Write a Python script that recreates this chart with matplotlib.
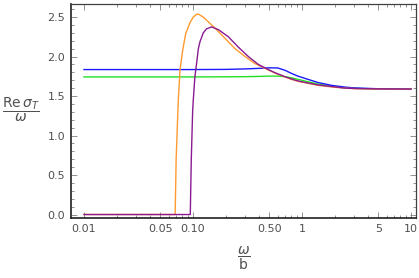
import matplotlib
matplotlib.use("Agg")
import matplotlib.pyplot as plt
from matplotlib.ticker import FixedLocator, FixedFormatter

# values (x = omega/b, y = Re sigma_T / omega)
orange_x = [0.01, 0.0686, 0.0700, 0.0733, 0.0760, 0.0804, 0.0857, 0.0939,
            0.1006, 0.108, 0.1125, 0.124, 0.138, 0.159, 0.1966, 0.2428,
            0.300, 0.3705, 0.458, 0.565, 0.698, 0.804, 0.925, 1.14, 1.41,
            1.87, 2.48, 3.06, 5.0, 10.0]
orange_y = [0.0, 0.0, 0.69, 1.45, 1.83, 2.08, 2.29, 2.43,
            2.50, 2.535, 2.535, 2.50, 2.44, 2.36, 2.23, 2.10,
            2.00, 1.91, 1.85, 1.79, 1.74, 1.71, 1.685, 1.66, 1.635,
            1.615, 1.60, 1.593, 1.588, 1.587]

purple_x = [0.01, 0.0944, 0.0964, 0.0993, 0.1006, 0.104, 0.108, 0.112,
            0.116, 0.1243, 0.133, 0.148, 0.171, 0.211, 0.260, 0.3215,
            0.397, 0.491, 0.565, 0.698, 0.804, 0.925, 1.14, 1.41, 1.87,
            2.48, 3.06, 5.0, 10.0]
purple_y = [0.0, 0.0, 0.69, 1.32, 1.45, 1.74, 1.92, 2.10,
            2.19, 2.30, 2.35, 2.375, 2.34, 2.25, 2.12, 2.00,
            1.90, 1.835, 1.795, 1.745, 1.715, 1.69, 1.665, 1.64, 1.62,
            1.60, 1.595, 1.59, 1.588]

blue_x = [0.01, 0.1, 0.2, 0.3, 0.4, 0.5, 0.6, 0.7, 0.804, 0.925, 1.14,
          1.41, 1.87, 2.48, 3.06, 5.0, 10.0]
blue_y = [1.835, 1.835, 1.837, 1.843, 1.85, 1.857, 1.855, 1.825, 1.785,
          1.75, 1.71, 1.67, 1.635, 1.613, 1.602, 1.592, 1.588]

green_x = [0.01, 0.1, 0.2, 0.3, 0.4, 0.5, 0.6, 0.7, 0.804, 0.925, 1.14,
           1.41, 1.87, 2.48, 3.06, 5.0, 10.0]
green_y = [1.742, 1.742, 1.743, 1.745, 1.748, 1.752, 1.752, 1.745, 1.73,
           1.71, 1.68, 1.65, 1.625, 1.605, 1.597, 1.59, 1.588]

xmajor = [0.01, 0.05, 0.1, 0.5, 1, 5, 10]
xmajor_lbl = ["0.01", "0.05", "0.10", "0.50", "1", "5", "10"]
ymajor = [0.0, 0.5, 1.0, 1.5, 2.0, 2.5]
ymajor_lbl = ["0.0", "0.5", "1.0", "1.5", "2.0", "2.5"]

fig = plt.figure(figsize=(4.19, 2.78), dpi=100)
ax = fig.add_axes([0.1687, 0.2147, 0.8241, 0.7698])

lw = 1.0
ax.plot(green_x, green_y, color="#22e022", lw=lw)
ax.plot(blue_x, blue_y, color="#1a1aff", lw=lw)
ax.plot(orange_x, orange_y, color="#ff9a30", lw=lw)
ax.plot(purple_x, purple_y, color="#8a1a92", lw=lw)

ax.set_xscale("log")
ax.set_xlim(0.00755, 11.1)
ax.set_ylim(-0.048, 2.661)

xminor = [k * 10.0 ** d for d in (-2, -1, 0) for k in range(2, 10) if k != 5]
ax.xaxis.set_major_locator(FixedLocator(xmajor))
ax.xaxis.set_major_formatter(FixedFormatter(xmajor_lbl))
ax.xaxis.set_minor_locator(FixedLocator(xminor))
ax.xaxis.set_minor_formatter(FixedFormatter([""] * len(xminor)))
ax.yaxis.set_major_locator(FixedLocator(ymajor))
ax.yaxis.set_major_formatter(FixedFormatter(ymajor_lbl))
ax.yaxis.set_minor_locator(FixedLocator([i / 10 for i in range(0, 27) if i % 5]))

ax.tick_params(which="both", direction="in", top=True, right=True,
               color="#808080", width=0.6, labelcolor="#505050", labelsize=8)
ax.tick_params(which="major", length=4, pad=4)
ax.tick_params(which="minor", length=2)
for s in ax.spines.values():
    s.set_color("#404040")
    s.set_linewidth(0.9)
ax.spines["left"].set_color("#202020")
ax.spines["bottom"].set_color("#202020")
ax.spines["left"].set_linewidth(1.2)
ax.spines["bottom"].set_linewidth(1.2)

fig.text(21 / 419, 1 - 110 / 278, r"$\dfrac{\mathrm{Re}\,\sigma_T}{\omega}$",
         ha="center", va="center", fontsize=10, color="#505050")
fig.text(244 / 419, 1 - 258 / 278, r"$\dfrac{\omega}{\mathrm{b}}$",
         ha="center", va="center", fontsize=10, color="#505050")

fig.savefig("out.png", dpi=100)
